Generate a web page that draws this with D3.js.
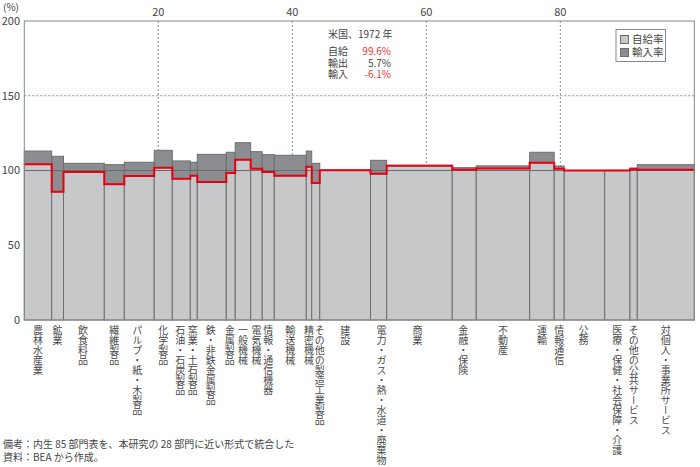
<!DOCTYPE html>
<html><head><meta charset="utf-8">
<script src="https://cdn.jsdelivr.net/npm/d3@7/dist/d3.min.js"></script>
<style>
body{margin:0;background:#fff;}
text{font-family:"Noto Sans CJK JP","Noto Sans",sans-serif;}
.vlab{writing-mode:vertical-rl;text-orientation:upright;}
</style></head>
<body><svg id="c" width="700" height="467"></svg>
<script>
const sectors = ["農林水産業","鉱業","飲食料品","繊維製品","パルプ・紙・木製品","化学製品","石油・石炭製品","窯業・土石製品","鉄・非鉄金属製品","金属製品","一般機械","電気機械","情報・通信機器","輸送機械","精密機械","その他の製造工業製品","建設","電力・ガス・熱・水道・廃棄物","商業","金融・保険","不動産","運輸","情報通信","公務","医療・保健・社会保障・介護","その他の公共サービス","対個人・事業所サービス"];
const shares = [4.09,1.76,6.09,2.99,4.46,2.70,2.69,1.04,4.33,1.33,2.31,1.72,1.80,4.78,0.81,1.20,7.57,2.42,9.78,3.58,7.98,3.66,1.49,6.05,3.77,1.09,8.51];
const selfRate = [104.1,85.8,99.0,90.8,96.4,101.9,94.5,96.5,92.3,98.3,107.2,101.2,99.0,96.5,102.5,91.6,100.1,97.9,103.2,100.5,101.4,105.2,101.2,100.0,100.0,100.8,100.5];
const importRate = [8.9,23.7,5.8,13.1,9.1,11.6,11.9,9.0,18.5,13.9,11.4,11.4,11.6,13.7,10.5,13.2,0.2,8.9,0.3,1.4,1.7,7.0,1.8,0.0,0.1,0.9,3.4];
const labelShift = [0,0,-1,0,-2,0,-1,-1,-1,-1,0,0,0,0,0,4,0,3,-2,-1,0,0,0,-1,0,0,0];
const yTicks = [0,50,100,150,200];
const xTicks = [20,40,60,80];
const legendItems = ["自給率","輸入率"];
const noteTitle = "米国、1972 年";
const noteRows = ["自給","輸出","輸入"];
const noteVals = ["99.6%","5.7%","-6.1%"];
const footnotes = ["備考：内生 85 部門表を、本研究の 28 部門に近い形式で統合した","資料：BEA から作成。"];

const svg = d3.select("#c");
const x = d3.scaleLinear().domain([0,100]).range([24.3,694.3]);
const y = d3.scaleLinear().domain([0,200]).range([320,21]);
const ends = Array.from(d3.cumsum(shares));
const data = sectors.map((s,i)=>({name:s, x0: i?ends[i-1]:0, x1: ends[i], self: selfRate[i], imp: importRate[i], shift: labelShift[i]}));

const LIGHT="#c7c8ca", DARK="#8b8d91", EDGE="#6e6e6e", RED="#e60012", TXT="#444";

svg.append("g").selectAll("line").data(xTicks).join("line")
  .attr("x1",d=>x(d)).attr("x2",d=>x(d)).attr("y1",y(200)).attr("y2",y(0))
  .attr("stroke","#8a8a8a").attr("stroke-dasharray","2,2");
svg.append("g").selectAll("line").data([150]).join("line")
  .attr("x1",x(0)).attr("x2",x(100)).attr("y1",d=>y(d)).attr("y2",d=>y(d))
  .attr("stroke","#8a8a8a").attr("stroke-dasharray","2,2");

const g = svg.append("g");
g.selectAll("rect.dark").data(data).join("rect").attr("class","dark")
  .attr("x",d=>x(d.x0)).attr("width",d=>x(d.x1)-x(d.x0))
  .attr("y",d=>y(d.self+d.imp)).attr("height",d=>y(d.self)-y(d.self+d.imp))
  .attr("fill",DARK).attr("stroke",EDGE).attr("stroke-width",1);
g.selectAll("rect.light").data(data).join("rect").attr("class","light")
  .attr("x",d=>x(d.x0)).attr("width",d=>x(d.x1)-x(d.x0))
  .attr("y",d=>y(d.self)).attr("height",d=>y(0)-y(d.self))
  .attr("fill",LIGHT).attr("stroke",EDGE).attr("stroke-width",1);

svg.append("line").attr("x1",x(0)).attr("x2",x(100)).attr("y1",y(100)).attr("y2",y(100))
  .attr("stroke","#6a6a6a").attr("stroke-width",1.2);

const pts = [];
data.forEach(d=>{pts.push([d.x0,d.self]);pts.push([d.x1,d.self]);});
svg.append("path").attr("d", d3.line().x(p=>x(p[0])).y(p=>y(p[1]))(pts))
  .attr("fill","none").attr("stroke",RED).attr("stroke-width",2);

svg.append("rect").attr("x",x(0)).attr("y",y(200)).attr("width",x(100)-x(0)).attr("height",y(0)-y(200))
  .attr("fill","none").attr("stroke","#888");

svg.append("g").selectAll("text").data(yTicks).join("text")
  .attr("x",20).attr("y",d=>y(d)).attr("dy","0.35em").attr("text-anchor","end")
  .attr("font-size",11).attr("fill",TXT).text(d=>d);
svg.append("text").attr("x",3).attr("y",11).attr("font-size",10).attr("fill",TXT).text("(%)");
svg.append("g").selectAll("text").data(xTicks).join("text")
  .attr("x",d=>x(d)).attr("y",16).attr("text-anchor","middle")
  .attr("font-size",11).attr("fill",TXT).text(d=>d);

// category labels: vertical writing mode
svg.append("g").attr("font-size",10).attr("fill","#4a4a4a")
  .selectAll("text").data(data).join("text").attr("class","vlab")
  .attr("x",d=>x((d.x0+d.x1)/2)+d.shift).attr("y",325)
  .text(d=>d.name);

// annotation block as one text element
const ann = svg.append("text").attr("font-size",10).attr("fill",TXT);
ann.append("tspan").attr("x",328).attr("y",38).text(noteTitle);
noteRows.forEach((r,i)=>{
  const yy = 55 + i*11.5;
  ann.append("tspan").attr("x",328).attr("y",yy).text(r);
  const v = ann.append("tspan").attr("y",yy).attr("fill", i===1?TXT:"#e8383d").text(noteVals[i]);
  v.attr("x", 328);
  const len = v.node().getComputedTextLength();
  v.attr("x", 391 - len);
});

const lg = svg.append("g");
lg.append("rect").attr("x",616).attr("y",29.5).attr("width",49.5).attr("height",32)
  .attr("fill","#fff").attr("stroke","#888");
lg.selectAll("rect.s").data(legendItems).join("rect").attr("class","s")
  .attr("x",620.5).attr("y",(d,i)=>35.5+i*13).attr("width",8).attr("height",8)
  .attr("fill",(d,i)=>i?DARK:LIGHT).attr("stroke",EDGE);
lg.selectAll("text").data(legendItems).join("text")
  .attr("x",632).attr("y",(d,i)=>39.5+i*13).attr("dy","0.35em")
  .attr("font-size",10.5).attr("fill",TXT).text(d=>d);

svg.append("g").selectAll("text").data(footnotes).join("text")
  .attr("x",3).attr("y",(d,i)=>448+i*12.5).attr("font-size",10).attr("fill",TXT).text(d=>d);
</script></body></html>
